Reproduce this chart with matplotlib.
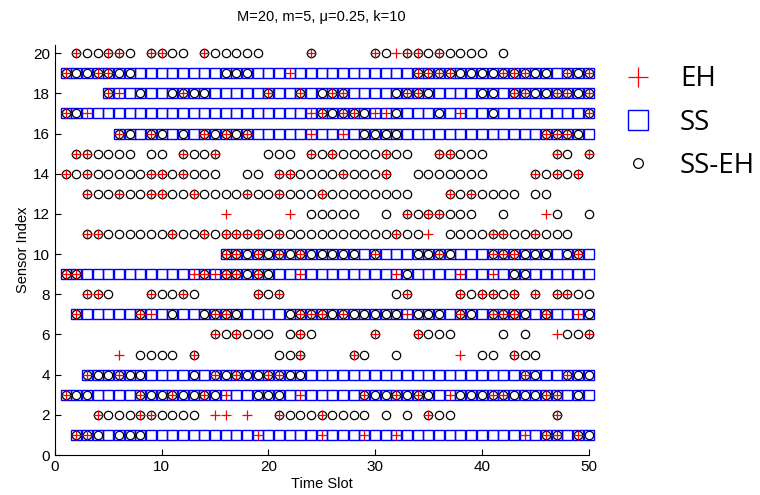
import matplotlib
matplotlib.use("Agg")
import matplotlib.pyplot as plt
import numpy as np

# sensors with an SS schedule: first active slot, active until slot 50
SS_SENSORS = [19, 18, 17, 16, 10, 9, 7, 4, 3, 1]
SS_FIRST = [1, 5, 1, 6, 16, 1, 2, 3, 1, 2]
SS_LAST = 50

# EH: slots where the sensor harvests energy ('+')
EH20 = [2, 5, 6, 9, 10, 14, 24, 30, 32, 33, 34, 36]
EH19 = [1, 4, 5, 22, 34, 35, 36, 37, 42, 43, 44, 48, 50]
EH18 = [5, 6, 12, 20, 23, 26, 27, 33, 34, 43, 44, 47, 48, 50]
EH17 = [1, 3, 24, 25, 27, 28, 30, 31, 38, 50]
EH16 = [6, 9, 14, 16, 18, 24, 27, 46, 47, 48]
EH15 = [2, 3, 12, 15, 24, 26, 31, 36, 37, 47, 50]
EH14 = [1, 3, 9, 10, 12, 21, 22, 27, 31, 45, 47, 49]
EH13 = [3, 6, 9, 10, 13, 18, 21, 25, 37, 39]
EH12 = [16, 22, 33, 35, 36, 46]
EH11 = [3, 4, 11, 14, 16, 17, 18, 19, 21, 32, 35, 41, 42, 45]
EH10 = [16, 17, 19, 21, 23, 30, 36, 41, 42, 43, 49]
EH9 = [1, 2, 13, 14, 15, 16, 17, 19, 23, 32, 38, 41]
EH8 = [3, 4, 9, 12, 19, 21, 33, 38, 40, 41, 43, 45, 47, 48]
EH7 = [2, 8, 9, 15, 16, 23, 24, 25, 27, 33, 38, 41, 42, 43, 46, 49]
EH6 = [15, 17, 23, 30, 34, 47, 50]
EH5 = [6, 13, 23, 28, 38, 43]
EH4 = [3, 6, 15, 17, 20, 21, 44, 48]
EH3 = [1, 8, 11, 14, 16, 23, 29, 32, 34, 37, 41, 42, 46, 47]
EH2 = [4, 8, 9, 15, 16, 18, 21, 25, 35, 47]
EH1 = [2, 3, 19, 25, 29, 32, 44, 46, 47, 49]

# SS-EH: slots marked with a circle
SSEH20 = [2, 3, 4, 5, 6, 7, 9, 10, 11, 12, 14, 15, 16, 17, 18, 19, 24, 30, 31,
          33, 34, 35, 36, 37, 38, 39, 40, 42]
SSEH19 = [1, 2, 3, 4, 5, 6, 7, 16, 17, 18, 34, 35, 36, 37, 38, 39, 40, 41, 42,
          43, 44, 45, 46, 48, 49, 50]
SSEH18 = [5, 8, 11, 12, 13, 14, 20, 23, 25, 26, 27, 32, 33, 34, 35, 40, 41, 43,
          44, 45, 46, 47, 48, 49, 50]
SSEH17 = [1, 2, 25, 26, 27, 28, 29, 32, 36, 41, 50]
SSEH16 = [6, 7, 9, 10, 12, 14, 15, 16, 17, 18, 29, 30, 31, 32, 46, 47, 48, 49]
SSEH15 = [2, 3, 4, 5, 6, 7, 9, 10, 12, 13, 14, 15, 20, 21, 22, 24, 25, 26, 27,
          28, 29, 30, 31, 32, 33, 36, 37, 38, 39, 40, 47, 48, 50]
SSEH14 = [1, 2, 3, 4, 5, 6, 7, 8, 9, 10, 11, 12, 13, 14, 15, 18, 19, 21, 22, 23,
          24, 25, 26, 27, 28, 29, 30, 31, 34, 35, 36, 37, 38, 39, 40, 45, 46, 47,
          48, 49]
SSEH13 = [3, 4, 5, 6, 7, 8, 9, 10, 11, 12, 13, 14, 15, 16, 17, 18, 19, 20, 21,
          22, 23, 24, 25, 26, 27, 28, 29, 30, 31, 32, 33, 37, 38, 39, 40, 41, 42,
          43, 45, 46]
SSEH12 = [24, 25, 26, 27, 28, 31, 33, 34, 35, 36, 37, 38, 39, 42, 47, 50]
SSEH11 = [3, 4, 5, 6, 7, 8, 9, 10, 11, 12, 13, 14, 15, 16, 17, 18, 19, 20, 21,
          22, 23, 24, 25, 26, 27, 28, 29, 30, 31, 32, 33, 34, 37, 38, 39, 40, 41,
          42, 43, 44, 45, 46, 47, 48]
SSEH10 = [16, 17, 18, 19, 20, 21, 22, 23, 24, 25, 26, 27, 28, 30, 34, 35, 36,
          37, 41, 42, 43, 44, 45, 46, 48, 49]
SSEH9 = [1, 2, 14, 16, 17, 18, 19, 20, 33, 43, 44]
SSEH8 = [3, 4, 5, 9, 10, 11, 12, 13, 19, 20, 21, 32, 33, 38, 39, 40, 41, 42, 43,
         45, 47, 48, 49, 50]
SSEH7 = [2, 8, 11, 14, 15, 16, 17, 22, 23, 24, 25, 26, 27, 28, 29, 30, 31, 32,
         34, 35, 36, 38, 39, 41, 42, 43, 44, 46, 50]
SSEH6 = [15, 16, 17, 18, 19, 20, 22, 23, 24, 30, 34, 35, 36, 37, 42, 44, 48, 49, 50]
SSEH5 = [8, 9, 10, 11, 13, 21, 22, 23, 28, 29, 32, 40, 41, 43, 44, 45]
SSEH4 = [3, 4, 5, 6, 7, 8, 13, 15, 16, 17, 18, 19, 20, 21, 22, 23, 44, 45, 48,
         49, 50]
SSEH3 = [1, 2, 3, 8, 9, 10, 11, 12, 13, 14, 15, 19, 20, 21, 29, 30, 31, 32, 33,
         34, 35, 38, 39, 40, 41, 42, 43, 44, 45, 46, 47, 49]
SSEH2 = [4, 5, 6, 7, 8, 9, 10, 11, 12, 13, 21, 22, 23, 24, 25, 26, 27, 28, 29,
         31, 33, 35, 36, 37, 47]
SSEH1 = [2, 3, 4, 6, 7, 8, 46, 47, 49, 50]

EH = {1: EH1, 2: EH2, 3: EH3, 4: EH4, 5: EH5, 6: EH6, 7: EH7, 8: EH8, 9: EH9,
      10: EH10, 11: EH11, 12: EH12, 13: EH13, 14: EH14, 15: EH15, 16: EH16,
      17: EH17, 18: EH18, 19: EH19, 20: EH20}
SSEH = {1: SSEH1, 2: SSEH2, 3: SSEH3, 4: SSEH4, 5: SSEH5, 6: SSEH6, 7: SSEH7,
        8: SSEH8, 9: SSEH9, 10: SSEH10, 11: SSEH11, 12: SSEH12, 13: SSEH13,
        14: SSEH14, 15: SSEH15, 16: SSEH16, 17: SSEH17, 18: SSEH18, 19: SSEH19,
        20: SSEH20}

plt.rcParams["font.family"] = ["Liberation Sans", "DejaVu Sans"]

fig = plt.figure(figsize=(7.6, 4.95), dpi=100)
ax = fig.add_axes([0.0724, 0.0808, 0.702, 0.828])

# squares (SS), circles (SS-EH), plus (EH) on top
sx, sy = [], []
for n, first in zip(SS_SENSORS, SS_FIRST):
    slots = np.arange(first, SS_LAST + 1)
    sx += list(slots); sy += [n] * len(slots)
cx, cy = [], []
px, py = [], []
for n in range(1, 21):
    cx += SSEH[n]; cy += [n] * len(SSEH[n])
    px += EH[n]; py += [n] * len(EH[n])

h_ss, = ax.plot(sx, sy, "s", ms=7.7, mfc="none", mec="#0000ff", mew=1.0,
                ls="none", clip_on=False, label="SS")
h_c, = ax.plot(cx, cy, "o", ms=6.0, mfc="none", mec="black", mew=0.9,
               ls="none", clip_on=False, label="SS-EH")
h_eh, = ax.plot(px, py, "+", ms=7.5, mec="#ff0000", mew=0.9,
                ls="none", clip_on=False, label="EH")

ax.set_xlim(0, 50)
ax.set_ylim(0, 20.4)
ax.set_xticks(range(0, 51, 10))
ax.set_yticks(range(0, 21, 2))
ax.tick_params(direction="in", labelsize=11, length=4, width=0.8)
for s in ("top", "right"):
    ax.spines[s].set_visible(False)
ax.set_xlabel("Time Slot", fontsize=10.5, labelpad=2)
ax.set_ylabel("Sensor Index", fontsize=10.5, labelpad=2)
ax.set_title("M=20, m=5, \u03bc=0.25, k=10", fontsize=10.5, pad=17.5)

leg = ax.legend(handles=[h_eh, h_ss, h_c], loc="upper left",
                bbox_to_anchor=(1.015, 1.012), frameon=False,
                prop={"family": "Open Sans", "size": 20},
                handletextpad=0.9, labelspacing=0.55, handlelength=1.2)
for h, ms in zip(leg.legend_handles, (15, 15, 7)):
    h.set_markersize(ms)

fig.savefig("out.png", dpi=100)
